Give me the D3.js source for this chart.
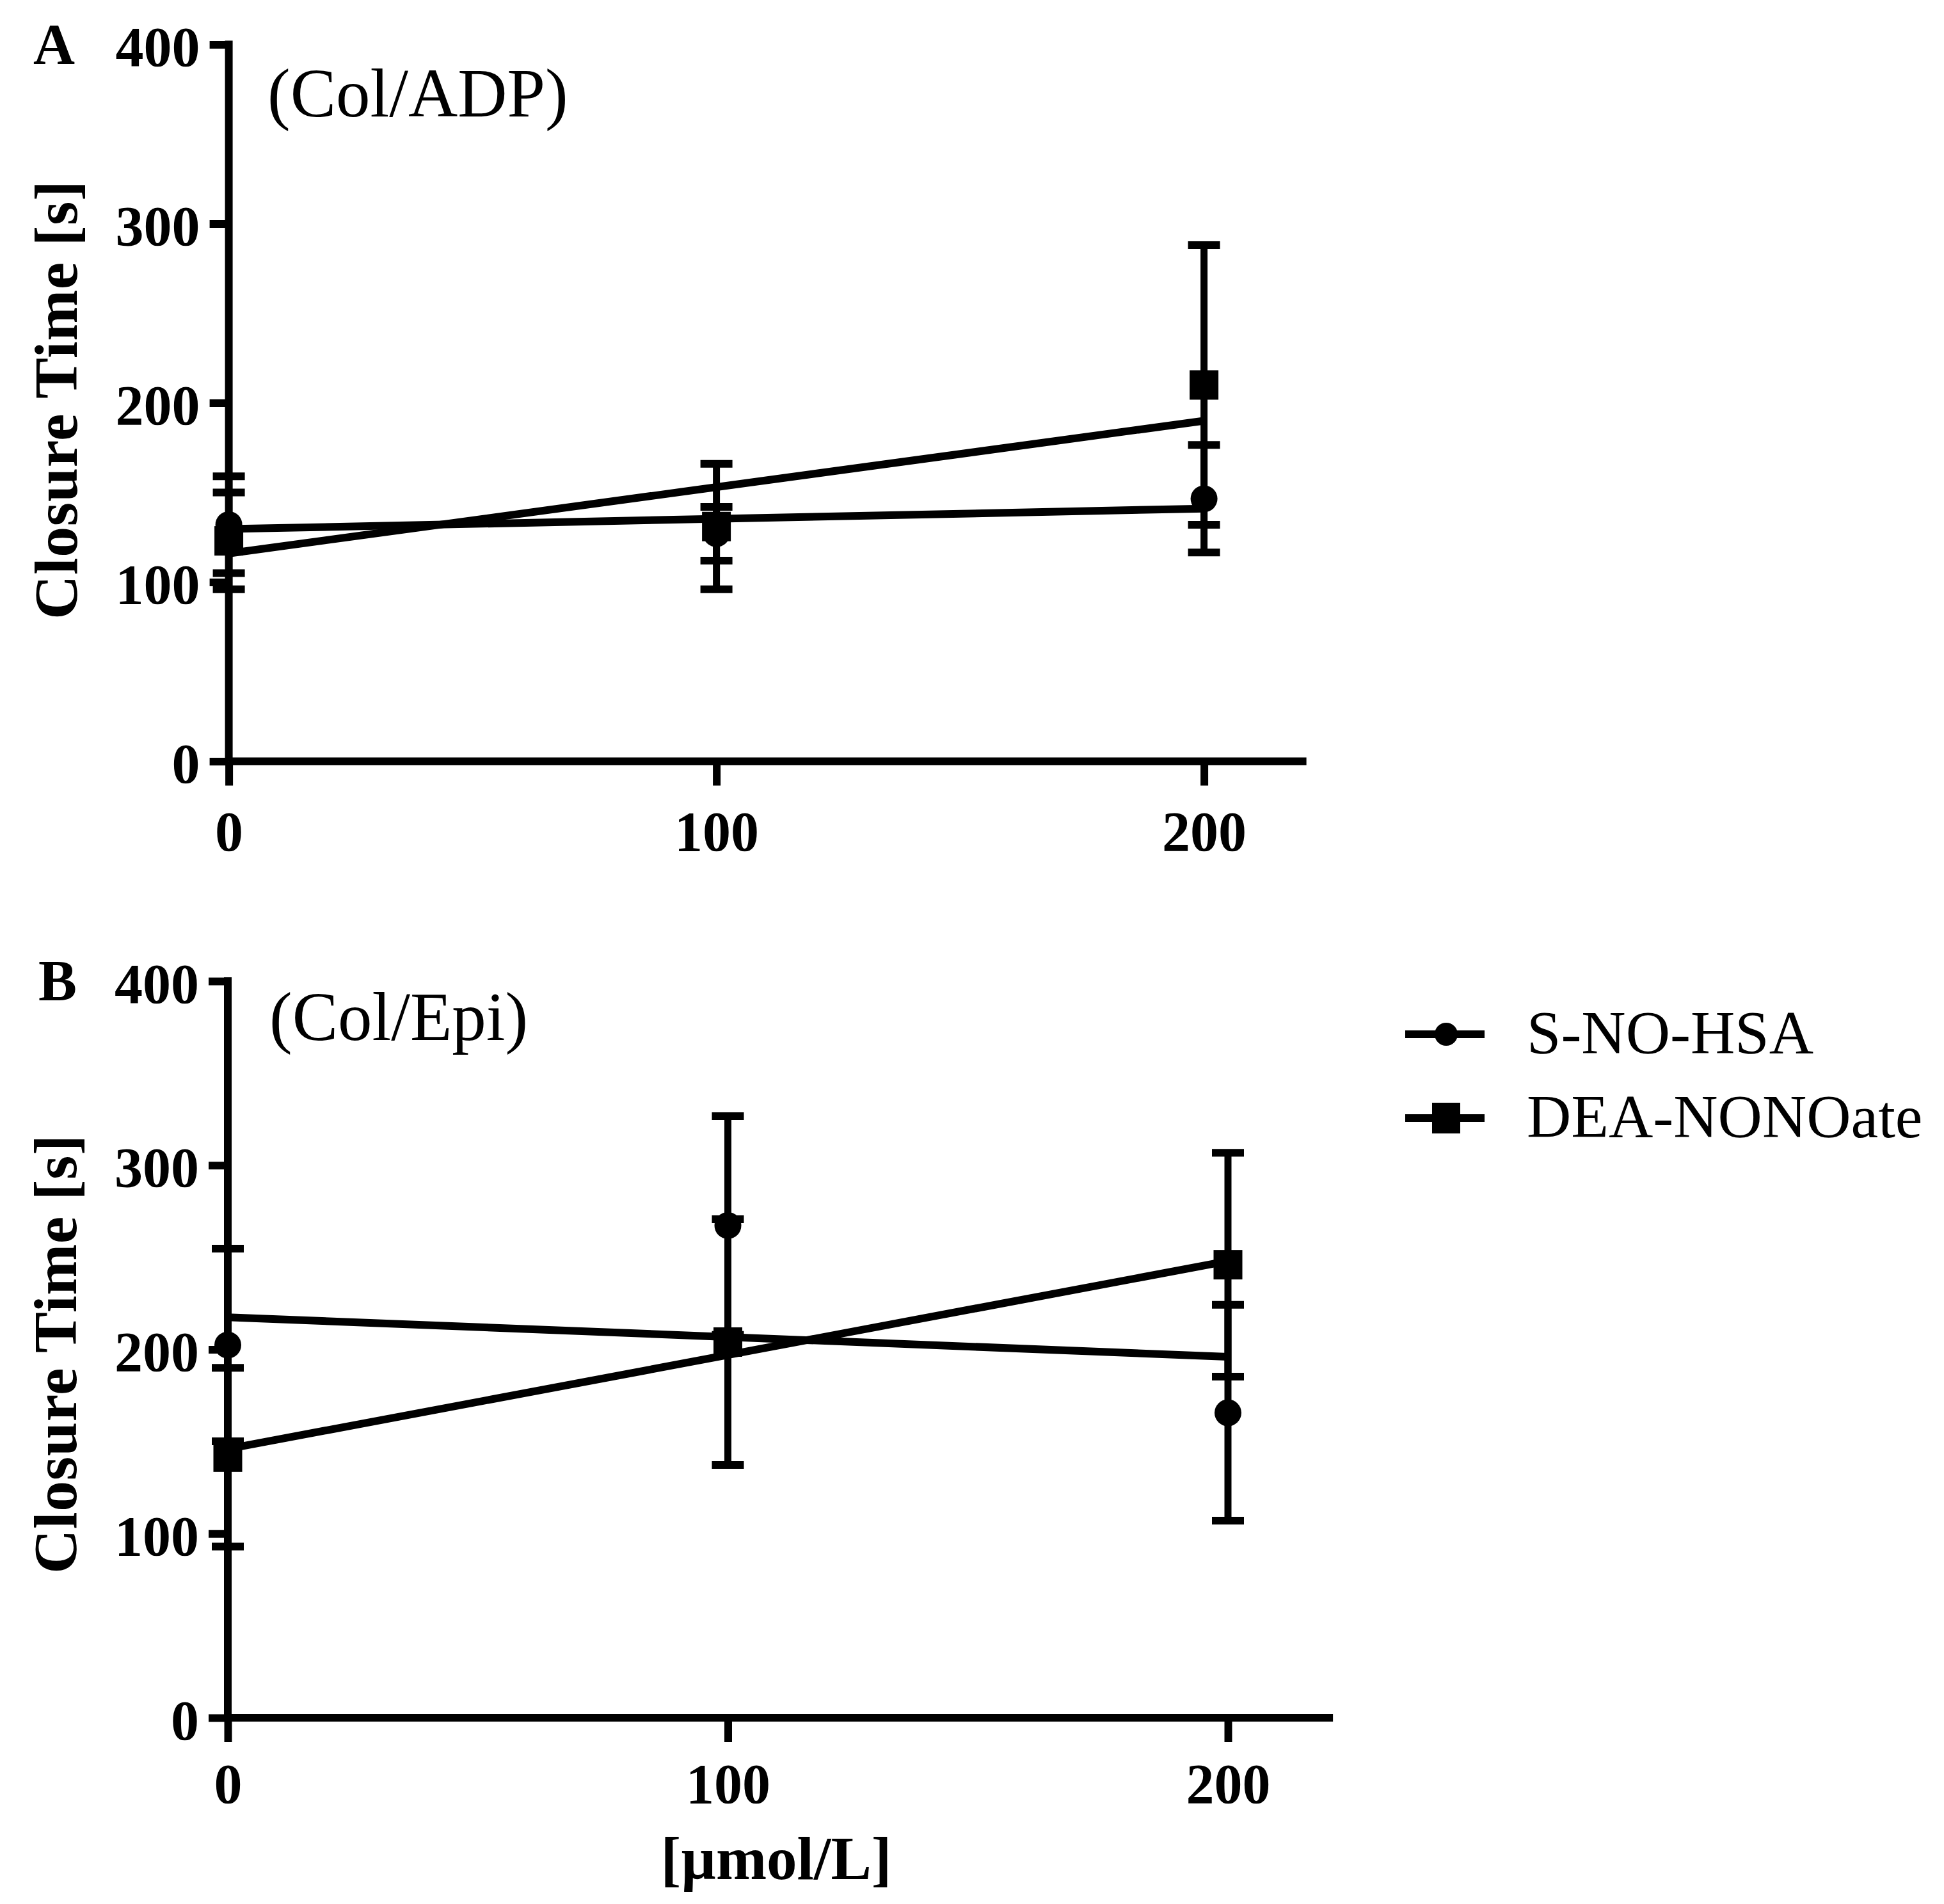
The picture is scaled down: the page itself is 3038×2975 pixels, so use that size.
<!DOCTYPE html>
<html>
<head>
<meta charset="utf-8">
<script src="https://cdn.jsdelivr.net/npm/d3@7"></script>
<style>
  html, body { margin: 0; padding: 0; background: #fff; }
  svg { display: block; }
  text { font-family: "Liberation Serif", "Times New Roman", serif; fill: #000; }
</style>
</head>
<body>
<svg id="chart" width="3038" height="2975"></svg>
<script>
// ---------------- DATA ----------------
const doses = [0, 100, 200];
const xTicks = [0, 100, 200];
const yTicks = [0, 100, 200, 300, 400];
const seriesNames = ["S-NO-HSA", "DEA-NONOate"];
const panelLetters = ["A", "B"];
const panelTitles = ["(Col/ADP)", "(Col/Epi)"];
const yTitle = "Closure Time [s]";
const xTitle = "[\u00B5mol/L]";

// Panel A (Col/ADP): means and SEM at 0, 100, 200 µmol/L
const aSnoMean = [132, 127, 146.5];
const aSnoSem  = [27, 15, 30];
const aDeaMean = [123, 131, 210];
const aDeaSem  = [27, 35, 78];
// fitted regression line values at x = 0 and x = 200
const aSnoFit = [129.6, 141];
const aDeaFit = [116, 190];

// Panel B (Col/Epi)
const bSnoMean = [202.4, 267.3, 165.6];
const bSnoSem  = [52.3, 59.4, 58.6];
const bDeaMean = [141.5, 204, 246];
const bDeaSem  = [48.5, 66.7, 60.8];
const bSnoFit = [217.5, 196];
const bDeaFit = [146, 248];

// ---------------- LAYOUT ----------------
const svg = d3.select("#chart");
svg.append("rect").attr("width", 3038).attr("height", 2975).attr("fill", "#fff");

const SW = 12;          // stroke width for axes / lines
const FONT_TICK = 88;

const panels = [
  { x0: 357.6, x200: 1881.6, xMaxVal: 221, y0: 1189.5, y400: 69.5,
    letterPos: [52, 100], titlePos: [418, 182], yTitlePos: [120, 625], xLabelOff: 139,
    sno: aSnoMean, snoSem: aSnoSem, dea: aDeaMean, deaSem: aDeaSem,
    snoFit: aSnoFit, deaFit: aDeaFit, showXTitle: false },
  { x0: 356, x200: 1919, xMaxVal: 221, y0: 2684, y400: 1533,
    letterPos: [60, 1563], titlePos: [421, 1625], yTitlePos: [119, 2116], xLabelOff: 133,
    sno: bSnoMean, snoSem: bSnoSem, dea: bDeaMean, deaSem: bDeaSem,
    snoFit: bSnoFit, deaFit: bDeaFit, showXTitle: true }
];

panels.forEach((p, i) => {
  const x = d3.scaleLinear().domain([0, 200]).range([p.x0, p.x200]);
  const y = d3.scaleLinear().domain([0, 400]).range([p.y0, p.y400]);
  const g = svg.append("g");

  // Y axis
  const yAxis = d3.axisLeft(y).tickValues(yTicks).tickSize(30).tickSizeOuter(0).tickPadding(15)
    .tickFormat(d3.format("d"));
  const ya = g.append("g").attr("transform", `translate(${x(0)},0)`).call(yAxis);
  ya.select(".domain").remove();
  ya.selectAll(".tick line").attr("stroke", "#000").attr("stroke-width", SW);
  ya.selectAll(".tick text")
    .attr("dy", "0.375em")
    .style("font-size", FONT_TICK + "px").style("font-weight", "bold")
    .style("font-family", '"Liberation Serif", "Times New Roman", serif');
  g.append("line")
    .attr("x1", x(0)).attr("x2", x(0))
    .attr("y1", y(400) - SW / 2).attr("y2", y(0))
    .attr("stroke", "#000").attr("stroke-width", SW);

  // X axis
  const xAxis = d3.axisBottom(x).tickValues(xTicks).tickSize(38).tickSizeOuter(0)
    .tickFormat(d3.format("d"));
  const xa = g.append("g").attr("transform", `translate(0,${y(0)})`).call(xAxis);
  xa.select(".domain").remove();
  xa.selectAll(".tick line").attr("stroke", "#000").attr("stroke-width", SW);
  xa.selectAll(".tick text")
    .attr("y", p.xLabelOff).attr("dy", 0)
    .style("font-size", FONT_TICK + "px").style("font-weight", "bold")
    .style("font-family", '"Liberation Serif", "Times New Roman", serif');
  const xEnd = p.x0 + (p.x200 - p.x0) * p.xMaxVal / 200;
  g.append("line")
    .attr("x1", x(0)).attr("x2", xEnd)
    .attr("y1", y(0)).attr("y2", y(0))
    .attr("stroke", "#000").attr("stroke-width", SW);

  // Texts
  g.append("text").attr("x", p.letterPos[0]).attr("y", p.letterPos[1])
    .style("font-size", "90px").style("font-weight", "bold").text(panelLetters[i]);
  g.append("text").attr("x", p.titlePos[0]).attr("y", p.titlePos[1])
    .style("font-size", "107px").text(panelTitles[i]);
  g.append("text")
    .attr("transform", `translate(${p.yTitlePos[0]},${p.yTitlePos[1]}) rotate(-90)`)
    .attr("text-anchor", "middle")
    .style("font-size", "96px").style("font-weight", "bold")
    .attr("textLength", 686).attr("lengthAdjust", "spacing")
    .text(yTitle);
  if (p.showXTitle) {
    g.append("text").attr("x", 1213).attr("y", 2936).attr("text-anchor", "middle")
      .style("font-size", "95px").style("font-weight", "bold").text(xTitle);
  }

  // Regression lines
  const fitLine = d3.line().x(d => x(d[0])).y(d => y(d[1]));
  [p.snoFit, p.deaFit].forEach(f => {
    g.append("path")
      .attr("d", fitLine([[0, f[0]], [200, f[1]]]))
      .attr("fill", "none").attr("stroke", "#000").attr("stroke-width", SW);
  });

  // Error bars
  const capW = 50;
  [[p.sno, p.snoSem], [p.dea, p.deaSem]].forEach(([m, s]) => {
    doses.forEach((d, k) => {
      const cx = x(d), yt = y(m[k] + s[k]), yb = y(m[k] - s[k]);
      g.append("line").attr("x1", cx).attr("x2", cx).attr("y1", yt).attr("y2", yb)
        .attr("stroke", "#000").attr("stroke-width", 11);
      [yt, yb].forEach(yy => {
        g.append("line").attr("x1", cx - capW / 2).attr("x2", cx + capW / 2)
          .attr("y1", yy).attr("y2", yy)
          .attr("stroke", "#000").attr("stroke-width", SW);
      });
    });
  });

  // Markers
  g.selectAll(".sqm").data(doses).enter().append("rect")
    .attr("x", (d) => x(d) - 22.5).attr("y", (d, k) => y(p.dea[k]) - 23)
    .attr("width", 45).attr("height", 46).attr("fill", "#000");
  g.selectAll(".circm").data(doses).enter().append("circle")
    .attr("cx", d => x(d)).attr("cy", (d, k) => y(p.sno[k]))
    .attr("r", 21).attr("fill", "#000");
});

// ---------------- LEGEND ----------------
const legend = svg.append("g");
const legendRows = [1616, 1747];
seriesNames.forEach((name, i) => {
  const ly = legendRows[i];
  legend.append("line").attr("x1", 2196).attr("x2", 2320).attr("y1", ly).attr("y2", ly)
    .attr("stroke", "#000").attr("stroke-width", SW);
  if (i === 0) {
    legend.append("circle").attr("cx", 2260).attr("cy", ly).attr("r", 18).attr("fill", "#000");
  } else {
    legend.append("rect").attr("x", 2238).attr("y", ly - 24).attr("width", 44).attr("height", 48)
      .attr("fill", "#000");
  }
  legend.append("text").attr("x", 2386).attr("y", ly + 30)
    .style("font-size", "96px").text(name);
});
</script>
</body>
</html>
